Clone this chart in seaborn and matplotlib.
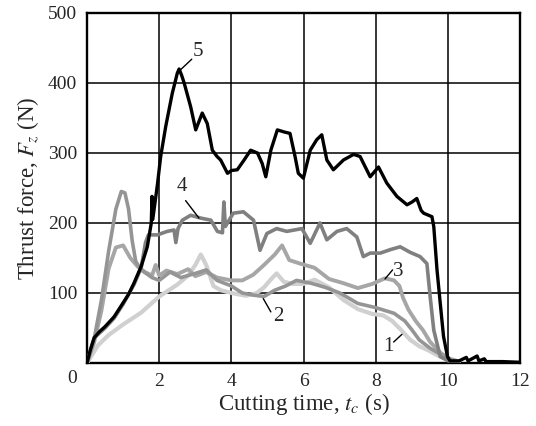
import matplotlib
matplotlib.use("Agg")
import matplotlib.pyplot as plt
import seaborn as sns
import pandas as pd

# ---- data ----
t1 = [0, 0.3, 0.6, 1.0, 1.5, 2.0, 2.5, 2.8, 3.0, 3.15, 3.3, 3.5, 3.7, 4.0, 4.4, 4.7, 4.9, 5.1, 5.25, 5.45, 5.7, 6.0, 6.3, 6.7, 7.1, 7.5, 7.9, 8.2, 8.45, 8.7, 8.95, 9.2, 9.45, 9.7, 9.95, 10.2]
f1 = [0, 25, 40, 55, 72, 95, 112, 125, 140, 155, 140, 110, 104, 100, 96, 100, 108, 120, 128, 116, 113, 113, 119, 108, 90, 77, 70, 68, 60, 47, 33, 24, 18, 11, 6, 2]

t2 = [0, 0.2, 0.4, 0.6, 0.8, 0.95, 1.05, 1.15, 1.25, 1.35, 1.5, 1.8, 2.0, 2.3, 2.6, 3.0, 3.3, 3.6, 4.0, 4.3, 4.6, 4.9, 5.2, 5.5, 5.8, 6.2, 6.6, 7.0, 7.5, 8.0, 8.5, 8.8, 9.0, 9.2, 9.5, 9.8, 10.05, 10.3]
f2 = [0, 35, 90, 160, 220, 245, 243, 220, 175, 145, 133, 122, 118, 130, 122, 128, 133, 118, 110, 100, 97, 95, 104, 110, 118, 114, 108, 100, 85, 79, 71, 60, 47, 33, 21, 12, 5, 2]

t3 = [0, 0.2, 0.4, 0.6, 0.8, 1.0, 1.2, 1.4, 1.6, 1.8, 1.9, 2.0, 2.2, 2.5, 2.8, 3.0, 3.3, 3.6, 4.0, 4.3, 4.6, 4.9, 5.2, 5.4, 5.6, 5.9, 6.3, 6.7, 7.1, 7.5, 7.9, 8.25, 8.5, 8.65, 8.75, 8.9, 9.1, 9.3, 9.5, 9.8, 10.05, 10.3]
f3 = [0, 30, 75, 135, 165, 168, 150, 138, 130, 125, 140, 125, 132, 127, 134, 124, 130, 122, 118, 118, 126, 140, 155, 168, 147, 142, 136, 120, 114, 107, 113, 121, 118, 110, 93, 76, 60, 47, 30, 14, 6, 2]

t4 = [0, 0.2, 0.5, 0.75, 1.0, 1.3, 1.5, 1.62, 1.7, 1.95, 2.22, 2.41, 2.46, 2.52, 2.64, 2.87, 3.15, 3.43, 3.61, 3.75, 3.79, 3.83, 4.05, 4.33, 4.61, 4.79, 4.98, 5.25, 5.53, 5.95, 6.18, 6.45, 6.64, 6.92, 7.19, 7.47, 7.65, 7.84, 8.12, 8.4, 8.67, 8.95, 9.22, 9.41, 9.5, 9.6, 9.78, 10.0, 10.3]
f4 = [0, 36, 50, 64, 84, 112, 136, 172, 183, 183, 188, 190, 172, 192, 204, 211, 207, 204, 188, 186, 230, 195, 214, 216, 204, 161, 185, 192, 188, 192, 171, 200, 176, 188, 192, 180, 152, 157, 157, 162, 166, 158, 152, 142, 95, 47, 9, 3, 2]

t5 = [0, 0.1, 0.2, 0.35, 0.5, 0.75, 1.0, 1.15, 1.3, 1.5, 1.67, 1.78, 1.8, 1.82, 1.95, 2.04, 2.18, 2.36, 2.5, 2.55, 2.62, 2.69, 2.87, 3.01, 3.19, 3.33, 3.47, 3.6, 3.7, 3.89, 4.0, 4.16, 4.35, 4.53, 4.72, 4.85, 4.95, 5.09, 5.27, 5.46, 5.62, 5.76, 5.85, 5.99, 6.18, 6.36, 6.5, 6.64, 6.82, 7.1, 7.38, 7.56, 7.84, 8.07, 8.3, 8.58, 8.86, 9.0, 9.13, 9.25, 9.32, 9.55, 9.6, 9.69, 9.78, 9.87, 9.98, 10.05, 10.3, 10.5, 10.55, 10.8, 10.85, 11.0, 11.05, 11.5, 12.0]
f5 = [0, 20, 36, 45, 52, 66, 86, 98, 114, 138, 166, 200, 238, 205, 255, 295, 338, 385, 414, 420, 411, 400, 366, 333, 357, 342, 304, 295, 290, 271, 275, 276, 290, 304, 300, 285, 266, 304, 333, 330, 328, 295, 271, 264, 304, 319, 326, 290, 276, 290, 298, 295, 266, 280, 257, 238, 226, 230, 235, 218, 214, 209, 195, 133, 85, 38, 9, 3, 3, 8, 3, 10, 3, 6, 2, 2, 1]

curve_names = ["1", "2", "3", "4", "5"]
curve_colors = ["#d0d0d0", "#959595", "#a6a6a6", "#808080", "#000000"]
curve_widths = [3.0, 2.6, 2.8, 2.6, 2.4]

x_ticks = [0, 2, 4, 6, 8, 10, 12]
y_ticks = [0, 100, 200, 300, 400, 500]

# label annotations: (text, text_x, text_y, line_start, line_end)
labels = [
    ("5", 3.08, 445, (2.53, 416), (2.9, 434)),
    ("4", 2.62, 252, (3.1, 207), (2.73, 232)),
    ("3", 8.62, 130, (8.25, 120), (8.46, 133)),
    ("2", 5.3, 66, (4.88, 92), (5.09, 73)),
    ("1", 8.35, 23, (8.72, 41), (8.49, 30)),
]

sns.set_theme(style="white")
plt.rcParams["font.family"] = ["Liberation Serif", "DejaVu Serif"]
plt.rcParams["mathtext.fontset"] = "stix"

fig = plt.figure(figsize=(5.36, 4.26), dpi=100)
ax = fig.add_axes([0.1623, 0.1479, 0.8087, 0.8216])

series = [(t1, f1), (t3, f3), (t2, f2), (t4, f4), (t5, f5)]
order = [0, 2, 1, 3, 4]
for (tt, ff), i in zip(series, order):
    df = pd.DataFrame({"t": tt, "F": ff})
    sns.lineplot(data=df, x="t", y="F", color=curve_colors[i], lw=curve_widths[i],
                 sort=False, estimator=None, ax=ax, zorder=3)

ax.set_xlim(0, 12)
ax.set_ylim(0, 500)
ax.set_xticks(x_ticks)
ax.set_yticks(y_ticks)
ax.set_xticklabels(["" if v == 0 else str(v) for v in x_ticks], fontsize=14)
ax.set_yticklabels(["" if v == 0 else str(v) for v in y_ticks], fontsize=14)
ax.tick_params(length=0, pad=7)
ax.grid(True, color="black", lw=1.1, zorder=1)
ax.set_axisbelow(True)
for s in ax.spines.values():
    s.set_color("black")
    s.set_linewidth(1.7)

ax.text(-0.022, -0.02, "0", transform=ax.transAxes, ha="right", va="top", fontsize=14)

ax.set_xlabel(r"Cutting time, $t_c$ (s)", fontsize=16.5, labelpad=1)
ax.set_ylabel(r"Thrust force, $F_z$ (N)", fontsize=16.5, labelpad=5)

for txt, tx, ty, p0, p1 in labels:
    ax.text(tx, ty, txt, fontsize=15, ha="center", va="center", zorder=6)
    ax.plot([p0[0], p1[0]], [p0[1], p1[1]], color="black", lw=1.0, zorder=6)

fig.savefig("out.png", dpi=100)
